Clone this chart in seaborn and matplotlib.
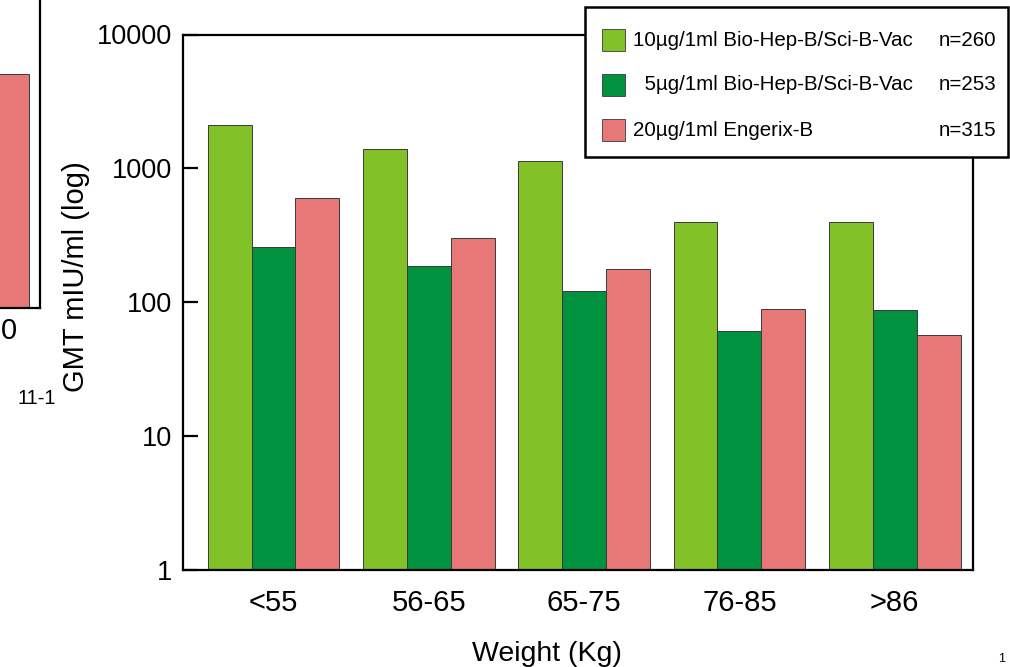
import pandas as pd
import numpy as np
import matplotlib.pyplot as plt
import seaborn as sns
from matplotlib.patches import Rectangle

# GMT by weight group
weights = ['<55', '56-65', '65-75', '76-85', '>86']
gmt_10ug = [2100, 1400, 1130, 400, 400]
gmt_5ug = [260, 186, 122, 61, 88]
gmt_engerix = [600, 300, 178, 89, 57]
vaccines = ['10µg/1ml Bio-Hep-B/Sci-B-Vac',
            '5µg/1ml Bio-Hep-B/Sci-B-Vac',
            '20µg/1ml Engerix-B']
n_sizes = [260, 253, 315]
colors = ['#82C128', '#00923F', '#E87878']
y_ticks = [1, 10, 100, 1000, 10000]

# piece of the neighbouring chart cut off at the left edge
frag_value = [76]

sns.set_style('white')
plt.rcParams['font.family'] = ['Liberation Sans', 'DejaVu Sans']
plt.rcParams['text.color'] = 'black'
plt.rcParams['axes.labelcolor'] = 'black'
plt.rcParams['xtick.color'] = 'black'
plt.rcParams['ytick.color'] = 'black'

df = pd.DataFrame({
    'weight': weights * 3,
    'gmt': gmt_10ug + gmt_5ug + gmt_engerix,
    'vaccine': np.repeat(vaccines, len(weights)),
})

W, H = 1010, 667
fig = plt.figure(figsize=(W / 100, H / 100), dpi=100)
ax = fig.add_axes([183 / W, 97 / H, 789.7 / W, 535.5 / H])

sns.barplot(
    data=df, x='weight', y='gmt', hue='vaccine',
    order=weights, hue_order=vaccines, palette=colors, saturation=1,
    width=0.848, errorbar=None, edgecolor='#3a3a3a', linewidth=0.7,
    legend=False, ax=ax,
)
ax.set_yscale('log')
ax.set_ylim(1, 10000)
ax.set_xlim(-0.583, 4.502)
ax.set_yticks(y_ticks)
ax.set_yticklabels([str(t) for t in y_ticks])
ax.yaxis.set_minor_locator(plt.NullLocator())

for s in ax.spines.values():
    s.set_visible(True)
    s.set_color('black')
    s.set_linewidth(1.6)

ax.tick_params(axis='y', direction='in', length=11, width=1.6, color='black',
               labelsize=19.5, pad=8, left=True)
ax.tick_params(axis='x', length=0, labelsize=21, pad=14)

ax.set_ylabel('GMT mIU/ml (log)', fontsize=21)
ax.yaxis.set_label_coords(-0.118, 0.547)
ax.set_xlabel('Weight (Kg)', fontsize=20.5)
ax.xaxis.set_label_coords(0.461, -0.132)

# legend box, drawn by hand so the n= column lines up on the right
def px(x, y):
    return x / W, 1 - y / H

fig.add_artist(Rectangle(px(585, 157), 423 / W, 150 / H, transform=fig.transFigure,
                         facecolor='white', edgecolor='black', linewidth=1.8,
                         zorder=5))
for i, (lab, n, c) in enumerate(zip(vaccines, n_sizes, colors)):
    yc = 40 + 45 * i
    fig.add_artist(Rectangle(px(602, yc + 11), 23 / W, 22 / H,
                             transform=fig.transFigure, facecolor=c,
                             edgecolor='#3a3a3a', linewidth=0.6, zorder=6))
    if lab[1] == 'µ':
        lab = '  ' + lab
    fig.text(*px(633, yc), lab, fontsize=14.8, ha='left', va='center', zorder=7)
    fig.text(*px(996, yc), f'n={n}', fontsize=14.8, ha='right', va='center', zorder=7)

# cropped neighbouring chart on the left
ax_frag = fig.add_axes([-72 / W, (H - 308) / H, 112 / W, 308 / H])
sns.barplot(x=['frag'], y=frag_value, color=colors[2], saturation=1, width=0.8,
            edgecolor='#3a3a3a', linewidth=0.7, ax=ax_frag)
ax_frag.set_xlim(-0.5, 0.5)
ax_frag.set_ylim(0, 100)
ax_frag.set_xticks([])
ax_frag.set_yticks([])
ax_frag.set_xlabel('')
ax_frag.set_ylabel('')
ax_frag.spines['left'].set_visible(False)
ax_frag.spines['top'].set_visible(False)
for s in ['right', 'bottom']:
    ax_frag.spines[s].set_visible(True)
    ax_frag.spines[s].set_color('black')
    ax_frag.spines[s].set_linewidth(1.6)

fig.text(*px(1, 331), '0', fontsize=21, ha='left', va='center')
fig.text(*px(56, 404), '11-1', fontsize=14.5, ha='right', va='baseline')
fig.text(*px(998, 665), '1', fontsize=9, ha='left', va='bottom')

fig.savefig('out.png', dpi=100)
